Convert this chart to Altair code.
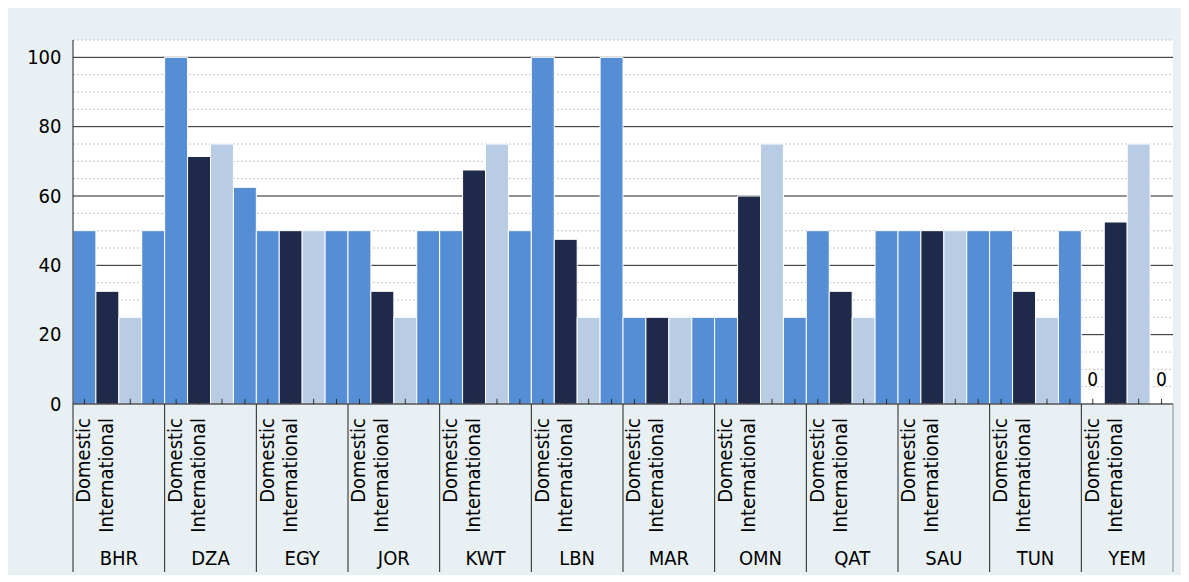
import altair as alt
import pandas as pd

countries = ["BHR", "DZA", "EGY", "JOR", "KWT", "LBN", "MAR", "OMN", "QAT", "SAU", "TUN", "YEM"]
series_names = ["Domestic A", "International A", "Domestic B", "International B"]
s1 = [50, 100, 50, 50, 50, 100, 25, 25, 50, 50, 50, 0]
s2 = [32.5, 71.4, 50, 32.5, 67.5, 47.5, 25, 60, 32.5, 50, 32.5, 52.5]
s3 = [25, 75, 50, 25, 75, 25, 25, 75, 25, 50, 25, 75]
s4 = [50, 62.5, 50, 50, 50, 100, 25, 25, 50, 50, 50, 0]
sub_labels = ["Domestic", "International"]
colors = ["#558ED5", "#1F2A4A", "#B8CCE4", "#558ED5"]
major_ticks = [0, 20, 40, 60, 80, 100]
minor_ticks = [5, 10, 15, 25, 30, 35, 45, 50, 55, 65, 70, 75, 85, 90, 95, 105]

FONT = "DejaVu Sans Condensed, Liberation Sans Narrow, Arial Narrow, sans-serif"
W, H = 1100, 364
NG = len(countries)
NS = 4

rows = []
for g, c in enumerate(countries):
    for k, vals in enumerate([s1, s2, s3, s4]):
        rows.append({"country": c, "series": series_names[k],
                     "x": g * NS + k, "x2": g * NS + k + 1,
                     "xc": g * NS + k + 0.5, "value": vals[g]})
bars_df = pd.DataFrame(rows)

xs = alt.Scale(domain=[0, NG * NS], nice=False, zero=False)
ys = alt.Scale(domain=[0, 105], nice=False)

yaxis = alt.Axis(values=major_ticks, title=None, ticks=False, domain=False,
                 grid=False, labelFont=FONT, labelFontSize=20,
                 labelColor="black", labelPadding=12)

minor = alt.Chart(pd.DataFrame({"v": minor_ticks})).mark_rule(
    color="#c4c4c4", strokeDash=[2, 2], strokeWidth=1
).encode(y=alt.Y("v:Q", scale=ys, axis=yaxis), x=alt.value(0), x2=alt.value(W))

major = alt.Chart(pd.DataFrame({"v": major_ticks[1:]})).mark_rule(
    color="#222222", strokeWidth=1
).encode(y=alt.Y("v:Q", scale=ys), x=alt.value(0), x2=alt.value(W))

bars = alt.Chart(bars_df).mark_bar(stroke="white", strokeWidth=1).encode(
    x=alt.X("x:Q", scale=xs, axis=None),
    x2="x2:Q",
    y=alt.Y("value:Q", scale=ys),
    y2=alt.datum(0),
    color=alt.Color("series:N", scale=alt.Scale(domain=series_names, range=colors), legend=None),
)

ticks = alt.Chart(bars_df).mark_rule(color="#333333", strokeWidth=1).encode(
    x=alt.X("xc:Q", scale=xs), y=alt.datum(0), y2=alt.datum(1.5)
)

zero_line = alt.Chart(pd.DataFrame({"v": [0]})).mark_rule(color="black", strokeWidth=1.2).encode(
    y=alt.Y("v:Q", scale=ys), x=alt.value(0), x2=alt.value(W)
)
left_line = alt.Chart(pd.DataFrame({"v": [0]})).mark_rule(color="#222222", strokeWidth=1).encode(
    x=alt.X("v:Q", scale=xs), y=alt.value(0), y2=alt.value(H)
)

sep_df = pd.DataFrame({"x": [g * NS for g in range(NG + 1)],
                       "c": ["#222222"] * NG + ["#888888"]})
seps = alt.Chart(sep_df).mark_rule(strokeWidth=1).encode(
    x=alt.X("x:Q", scale=xs), y=alt.value(H), y2=alt.value(H + 168),
    color=alt.Color("c:N", scale=None)
)

sub_rows = []
for g in range(NG):
    for k, lab in enumerate(sub_labels):
        sub_rows.append({"x": g * NS + k + 0.5, "t": lab})
subs = alt.Chart(pd.DataFrame(sub_rows)).mark_text(
    angle=270, align="right", baseline="middle", font=FONT, fontSize=20, color="black"
).encode(x=alt.X("x:Q", scale=xs), y=alt.value(H + 14), text="t:N")

ctry = alt.Chart(pd.DataFrame({"x": [g * NS + NS / 2 for g in range(NG)], "t": countries})).mark_text(
    align="center", baseline="middle", font=FONT, fontSize=20, color="black"
).encode(x=alt.X("x:Q", scale=xs), y=alt.value(H + 155), text="t:N")

zero_df = bars_df[bars_df["value"] == 0]
zeros = alt.Chart(zero_df).mark_text(
    align="center", baseline="middle", font=FONT, fontSize=19, color="black"
).encode(x=alt.X("xc:Q", scale=xs), y=alt.value(H - 24), text=alt.Text("value:Q", format="d"))

chart = alt.layer(minor, major, bars, ticks, zero_line, left_line, seps, subs, ctry, zeros).properties(
    width=W, height=H,
    background="#E8F0F3",
    padding={"left": 65, "top": 32, "right": 8, "bottom": 171},
    autosize=alt.AutoSizeParams(type="none"),
).configure_view(stroke=None, fill="white")

chart.save("out.html", embed_options={"renderer": "svg", "actions": False})
